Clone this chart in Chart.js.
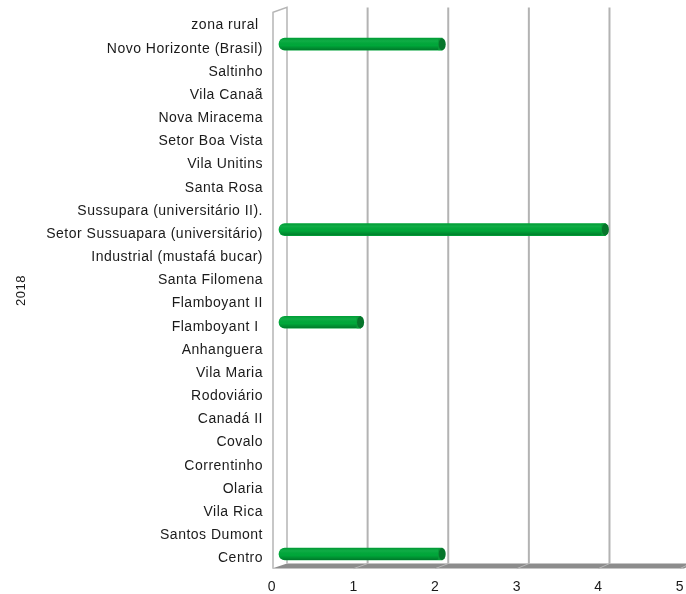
<!DOCTYPE html>
<html>
<head>
<meta charset="utf-8">
<script src="https://cdn.jsdelivr.net/npm/chart.js@4.4.1/dist/chart.umd.min.js"></script>
<style>
  html, body { margin: 0; background: #fff; }
  #wrap { width: 686px; height: 594px; }
</style>
</head>
<body>
<div id="wrap"><canvas id="grafico"></canvas></div>
<script>
// bairros, de cima para baixo
const bairros = [
  'zona rural ', 'Novo Horizonte (Brasil)', 'Saltinho', 'Vila Canaã', 'Nova Miracema',
  'Setor Boa Vista', 'Vila Unitins', 'Santa Rosa', 'Sussupara (universitário II).',
  'Setor Sussuapara (universitário)', 'Industrial (mustafá bucar)', 'Santa Filomena',
  'Flamboyant II', 'Flamboyant I ', 'Anhanguera', 'Vila Maria', 'Rodoviário',
  'Canadá II', 'Covalo', 'Correntinho', 'Olaria', 'Vila Rica', 'Santos Dumont', 'Centro'
];
const casos2018 = [0, 2, 0, 0, 0, 0, 0, 0, 0, 4, 0, 0, 0, 1, 0, 0, 0, 0, 0, 0, 0, 0, 0, 2];
const eixoMin = 0;
const eixoMax = 5;

const FONTE = '"Liberation Sans", Arial, sans-serif';
const PROF_X = 15, PROF_Y = -5;      // deslocamento da parede do fundo
const BARRA_X = 7, BARRA_Y = -3;     // barras ficam no meio da profundidade

// paredes, piso e grade em perspectiva
const cena3d = {
  id: 'cena3d',
  beforeDraw(chart) {
    chart.ctx.letterSpacing = '0.5px';
  },
  beforeDatasetsDraw(chart) {
    const { ctx, chartArea: a, scales } = chart;
    const x = scales.x;
    const fundoX = v => a.left + PROF_X + (x.getPixelForValue(v) - a.left) * 0.988;
    const topoF = a.top + PROF_Y, baseF = a.bottom + PROF_Y;

    ctx.save();
    // piso
    ctx.fillStyle = '#8c8c8c';
    ctx.beginPath();
    ctx.moveTo(a.left, a.bottom);
    ctx.lineTo(x.getPixelForValue(eixoMax) + 4, a.bottom);
    ctx.lineTo(fundoX(eixoMax) + 4, baseF);
    ctx.lineTo(fundoX(eixoMin), baseF);
    ctx.closePath();
    ctx.fill();

    ctx.strokeStyle = '#b9b9b9';
    ctx.lineWidth = 1;
    for (let v = eixoMin + 1; v <= eixoMax; v++) {
      ctx.beginPath();
      ctx.moveTo(x.getPixelForValue(v), a.bottom);
      ctx.lineTo(fundoX(v), baseF);
      ctx.stroke();
    }

    // linhas de grade no fundo
    ctx.strokeStyle = '#b3b3b3';
    ctx.lineWidth = 2;
    for (let v = eixoMin + 1; v <= eixoMax; v++) {
      ctx.beginPath();
      ctx.moveTo(fundoX(v), topoF);
      ctx.lineTo(fundoX(v), baseF);
      ctx.stroke();
    }

    // parede lateral esquerda
    ctx.strokeStyle = '#b5b5b5';
    ctx.lineWidth = 1.5;
    ctx.beginPath();
    ctx.moveTo(a.left + 1, a.bottom);
    ctx.lineTo(a.left + 1, a.top);
    ctx.lineTo(fundoX(eixoMin), topoF);
    ctx.lineTo(fundoX(eixoMin), baseF);
    ctx.stroke();
    ctx.restore();

    ctx.save();
    ctx.translate(BARRA_X, BARRA_Y);
  },
  afterDatasetsDraw(chart) {
    const { ctx } = chart;
    chart.getDatasetMeta(0).data.forEach(bar => {
      const { x, y, base, height } = bar.getProps(['x', 'y', 'base', 'height']);
      if (!(x - base >= 1)) return;
      const top = y - height / 2, r = height / 2;
      // sombreado do cilindro
      const g = ctx.createLinearGradient(0, top, 0, top + height);
      g.addColorStop(0, 'rgba(0,0,0,0.10)');
      g.addColorStop(0.25, 'rgba(255,255,255,0.06)');
      g.addColorStop(0.6, 'rgba(0,0,0,0)');
      g.addColorStop(1, 'rgba(0,0,0,0.28)');
      ctx.save();
      ctx.beginPath();
      ctx.roundRect(base, top, x - base, height, r);
      ctx.clip();
      ctx.fillStyle = g;
      ctx.fillRect(base, top, x - base, height);
      ctx.restore();
      // tampa da ponta
      ctx.fillStyle = '#0a9a38';
      ctx.fillRect(x - 4, top, 4, height);
      ctx.fillStyle = '#06752b';
      ctx.beginPath();
      ctx.ellipse(x, y, 3.5, r, 0, 0, Math.PI * 2);
      ctx.fill();
    });
    ctx.restore();
  }
};

new Chart(document.getElementById('grafico'), {
  type: 'bar',
  data: {
    labels: bairros,
    datasets: [{
      label: '2018',
      data: casos2018.map(v => v || null),
      backgroundColor: '#00a83a',
      barThickness: 12,
      borderRadius: { topLeft: 6, bottomLeft: 6, topRight: 0, bottomRight: 0 },
      borderSkipped: false,
      clip: false
    }]
  },
  options: {
    indexAxis: 'y',
    responsive: true,
    maintainAspectRatio: false,
    animation: false,
    layout: { padding: { top: 12.4, right: 6, left: 0, bottom: 0 } },
    scales: {
      x: {
        min: eixoMin,
        max: eixoMax,
        grid: { display: false, drawTicks: false },
        border: { display: false },
        ticks: { stepSize: 1, padding: 10, color: '#1a1a1a', font: { family: FONTE, size: 14 } },
        afterFit(s) { s.height = 25.4; s.paddingLeft = 0; s.paddingRight = 0; }
      },
      y: {
        grid: { display: false, drawTicks: false },
        border: { display: false },
        ticks: { padding: 9, labelOffset: 1.5, color: '#1a1a1a', autoSkip: false, font: { family: FONTE, size: 14 } },
        title: { display: true, text: '2018', color: '#1a1a1a', padding: { top: 14, bottom: 0 }, font: { family: FONTE, size: 13 } },
        afterFit(s) { s.width = 272; s.paddingTop = 0; s.paddingBottom = 0; }
      }
    },
    plugins: {
      legend: { display: false },
      tooltip: { enabled: false }
    }
  },
  plugins: [cena3d]
});
</script>
</body>
</html>
